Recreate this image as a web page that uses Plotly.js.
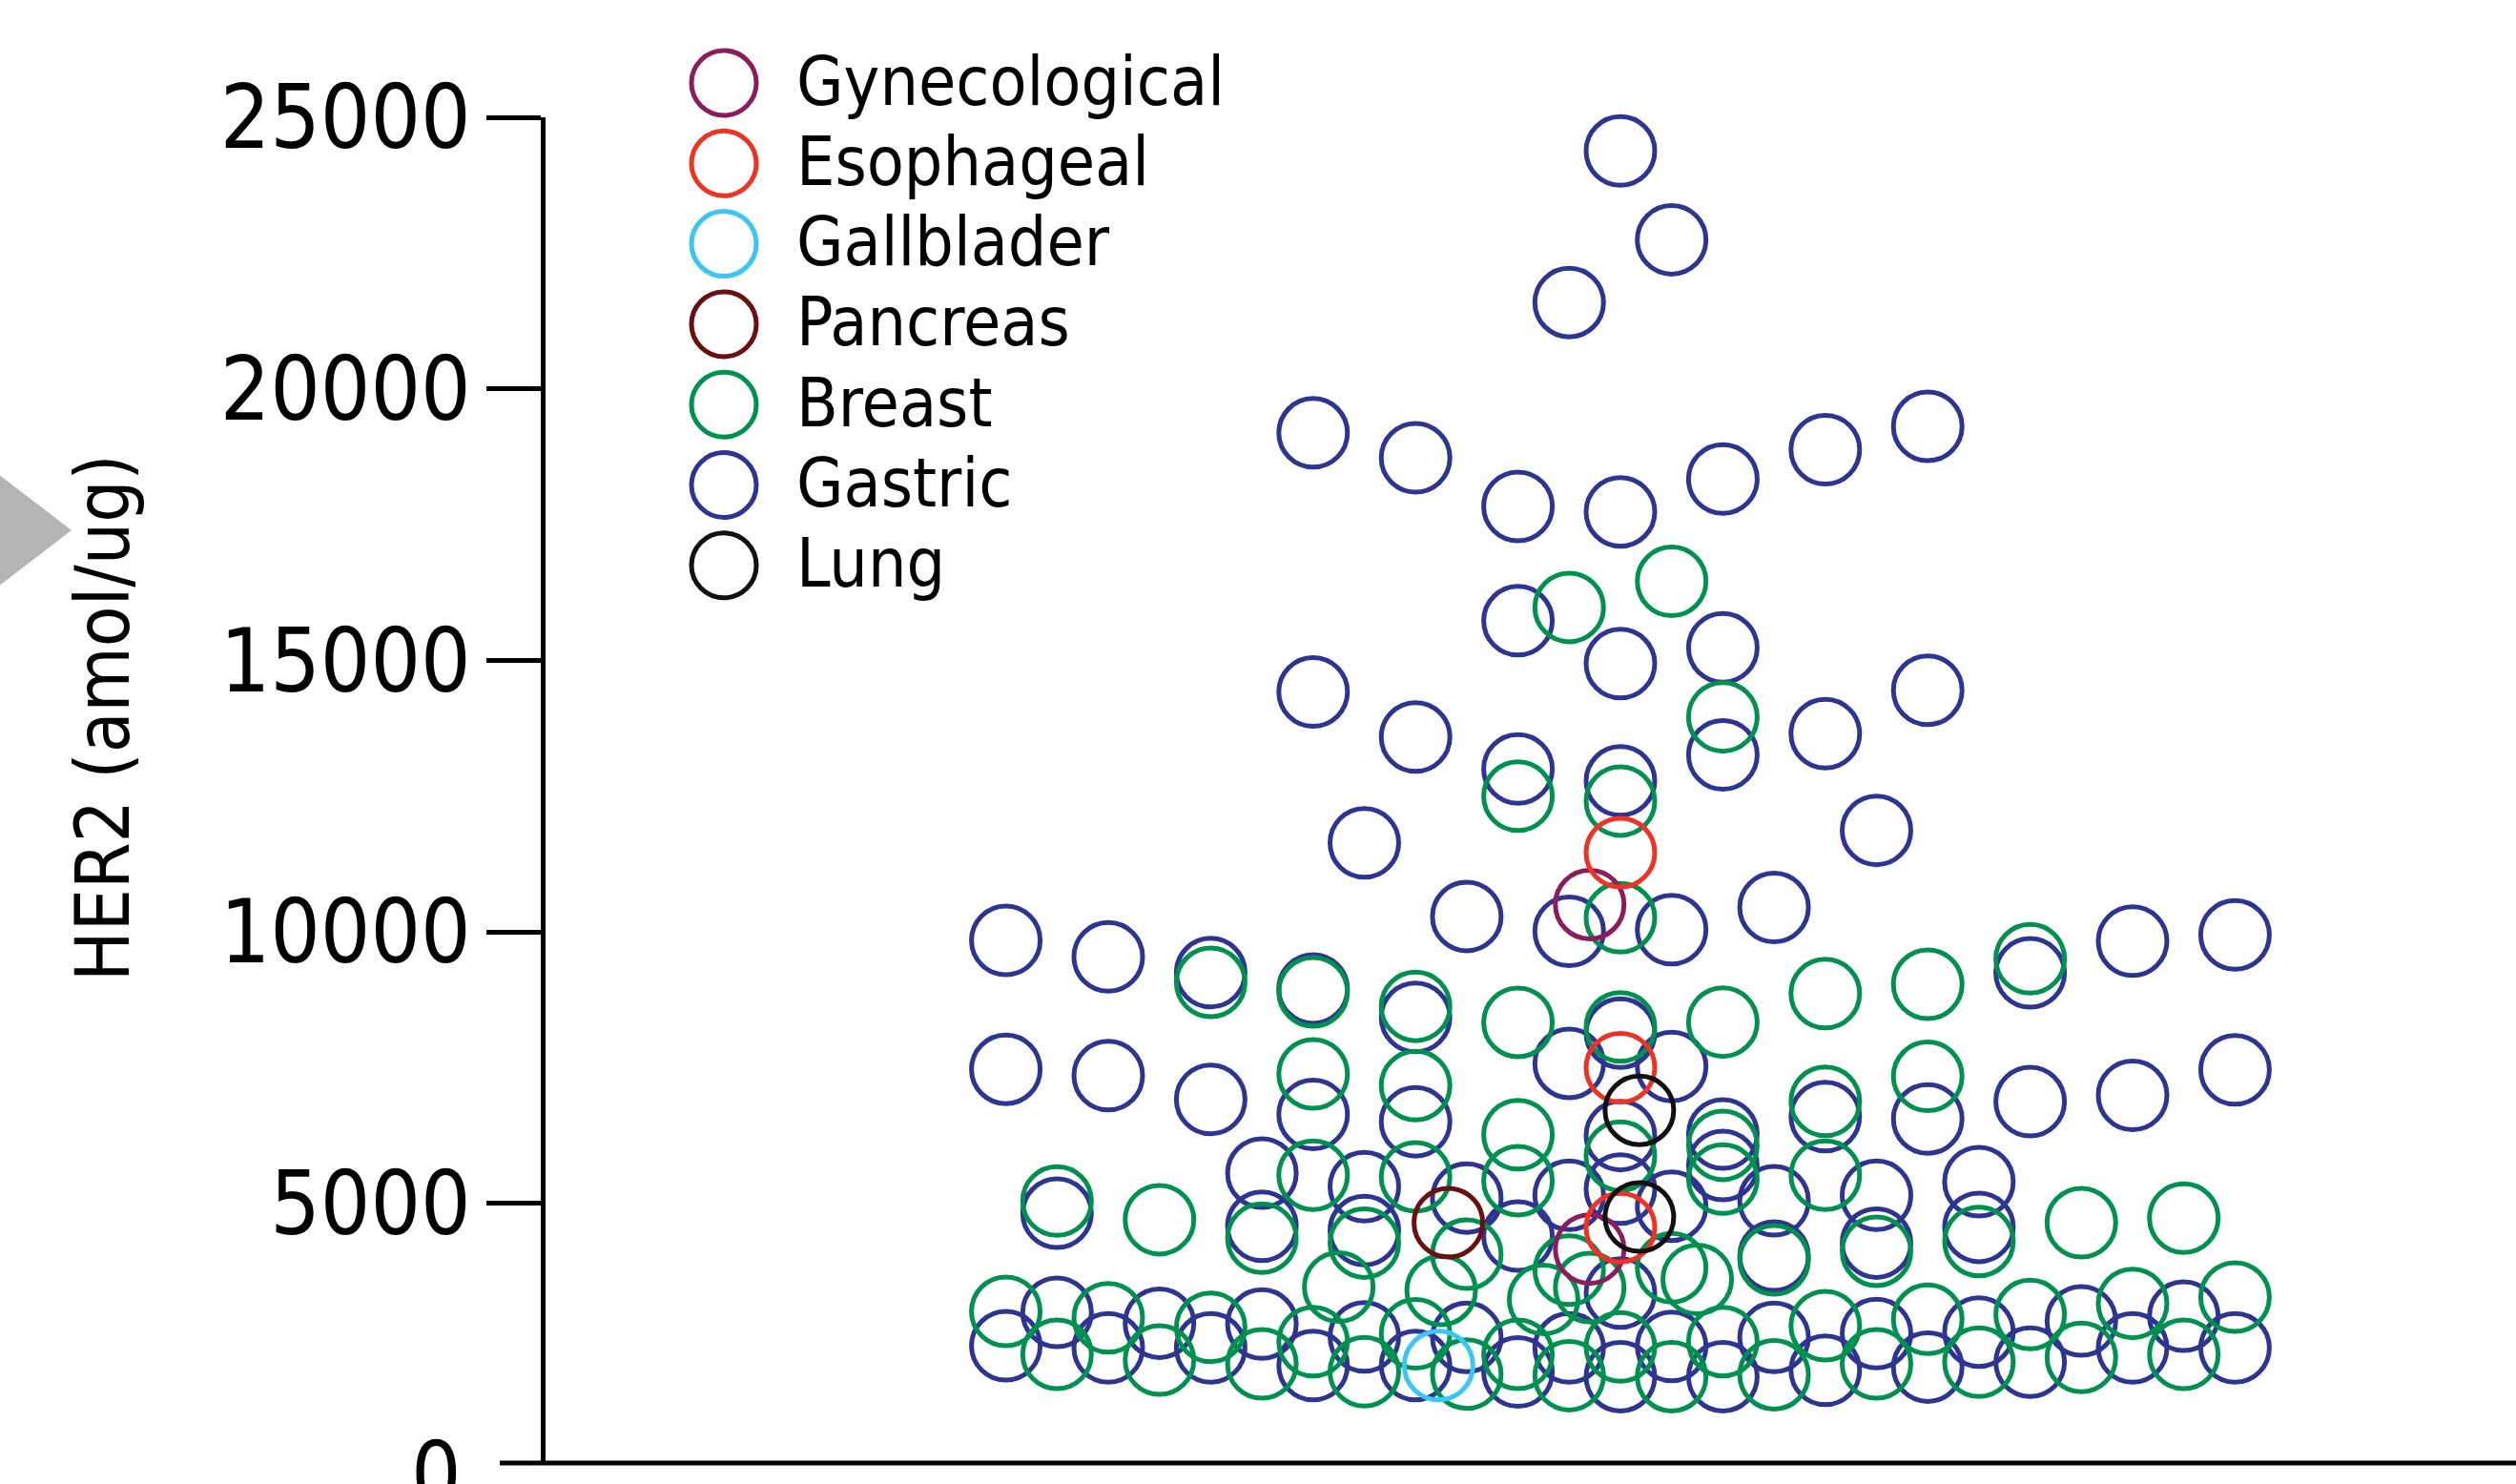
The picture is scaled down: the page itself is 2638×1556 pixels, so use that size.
<!DOCTYPE html>
<html>
<head>
<meta charset="utf-8">
<script src="https://cdn.plot.ly/plotly-3.0.1.min.js"></script>
<style>
  html, body { margin: 0; padding: 0; background: #ffffff; }
  #chart { width: 2638px; height: 1556px; }
</style>
</head>
<body>
<div id="chart"></div>
<script>
// ---------------- DATA ----------------
// x = horizontal swarm column position (0 = centre column), y = HER2 (amol/ug)
const categories = ["Gynecological", "Esophageal", "Gallblader", "Pancreas", "Breast", "Gastric", "Lung"];
const categoryColors = ["#8C1D5C", "#EE3224", "#3CC6F2", "#6A1010", "#009150", "#2D3590", "#111111"];

const gastricX = [0, 1, -1, -6, -4, -2, 0, 2, 4, 6, -2, 0, 2, -6, 6, -4, 4, 2, -2, 0, -5, 5,
  -3, -1, 1, 3, -12, -10, -8, -6, -4, 0, 8, 10, 12, -12, -10, -8, -6, -4, -1, 1, 6, 8, 10, 12, 0, 2, 4,
  -11, -7, -7, -5, -5, -3, -1, 0, 1, 2, 3, 3, 5, 5, 7, 7, -2, 0,
  -12, -11, -10, -9, -8, -7, -6, -5, -4, -3, -2, -1, 0, 1, 2, 3, 4, 5, 6, 7, 8, 9, 10, 11, 12];
const gastricY = [24380, 22745, 21590, 19190, 18730, 17835, 17735, 18340, 18880, 19310, 15730, 14940, 15230, 14420, 14450, 13590, 13650, 13260, 13000, 12780, 11640, 11870,
  10285, 10010, 10040, 10450, 9845, 9540, 9250, 8950, 8425, 8135, 9245, 9830, 9945, 7470, 7355, 6915, 6640, 6505, 7580, 7520, 6555, 6875, 6990, 7460, 6250, 6280, 6600,
  4820, 5560, 4580, 5310, 4500, 5100, 5150, 5265, 4950, 5700, 5050, 4030, 5150, 4270, 5400, 4560, 4400, 3350,
  2379, 2994, 2339, 2795, 2339, 2778, 2016, 2543, 2016, 2532, 1898, 2339, 1811, 2368, 1811, 2532, 1929, 2602, 1987, 2632, 2075, 2837, 2339, 2925, 2339];

const breastX = [-1, 1, 2, -2, 0, 0,
  -8, -6, -4, -2, 0, 2, 4, 6, 8, -6, -4, 6, 4, -2, 0, 2,
  -11, -9, -7, -6, -5, -4, -3, -2, -5.5, -3.5, -1.5, -1, -0.6, 1, 1.5, 2, 3, 4, 5, 7, 9, 11,
  -12, -11, -10, -9, -8, -7, -6, -5, -4, -3, -2, -1, 0, 1, 2, 3, 4, 5, 6, 7, 8, 9, 10, 11, 12];
const breastY = [15975, 16455, 13960, 12500, 12410, 10260,
  9070, 8895, 8630, 8335, 8250, 8340, 8865, 9035, 9505, 7385, 7170, 7340, 6880, 6265, 5870, 6070,
  5045, 4700, 4360, 5520, 4270, 5490, 4065, 5420, 3460, 3400, 3230, 3770, 3450, 3815, 3600, 5450, 3960, 5520, 4120, 4300, 4645, 4730,
  3012, 2221, 2894, 2116, 2718, 2046, 2455, 1900, 2600, 1858, 2221, 1829, 2356, 1811, 2456, 1846, 2750, 2046, 2866, 2075, 2954, 2163, 3159, 2221, 3276];

const gynecologicalX = [-0.6, -0.6];
const gynecologicalY = [10504, 4160];
const esophagealX = [0, 0, 0];
const esophagealY = [11460, 7500, 4555];
const gallbladerX = [-3.55];
const gallbladerY = [2016];
const pancreasX = [-3.36];
const pancreasY = [4645];
const lungX = [0.37, 0.37];
const lungY = [6715, 4750];

const yTickVals = [5000, 10000, 15000, 20000, 25000];
const yTickText = ["5000", "10000", "15000", "20000", "25000"];
const yZeroLabel = "0";
const yAxisTitle = "HER2 (amol/ug)";

// ---------------- FONT CHOICE (condensed face if installed, sizes fitted to the reference widths) ----------------
const ctx = document.createElement("canvas").getContext("2d");
function textWidth(family, text, size) { ctx.font = size + "px " + family; return ctx.measureText(text).width; }
function hasFont(name) {
  const s = "Gynecological 25000 HER2 (amol/ug)";
  return textWidth("monospace", s, 100) !== textWidth('"' + name + '", monospace', s, 100) ||
         textWidth("serif", s, 100) !== textWidth('"' + name + '", serif', s, 100);
}
const condensedCandidates = ["Liberation Sans Narrow", "Arial Narrow", "DejaVu Sans Condensed", "Roboto Condensed", "Noto Sans Condensed", "Open Sans Condensed"];
let baseFace = "Liberation Sans";
for (const f of condensedCandidates) { if (hasFont(f)) { baseFace = f; break; } }
const FONT = '"' + baseFace + '", "Liberation Sans", Arial, sans-serif';
function fitSize(text, targetW, maxSize) {
  const w = textWidth(FONT, text, 100);
  return Math.min(maxSize, 100 * targetW / w);
}
const tickSize = fitSize("25000", 263, 118);
const legendSize = fitSize("Gynecological", 449, 88);
const titleSize = fitSize(yAxisTitle, 553, 96);

// ---------------- LAYOUT HELPERS ----------------
const W = 2638, H = 1556;
const L = 572, R = 2638, T = 123, B = 1534;
const PW = R - L, PH = B - T;
const px2x = p => (p - L) / PW;
const py2y = p => (B - p) / PH;

function swarmTrace(name, xs, ys, color) {
  return {
    type: "scatter", mode: "markers", name: name,
    x: xs, y: ys, showlegend: false, hoverinfo: "skip",
    marker: { symbol: "circle-open", size: 72, color: color, line: { width: 5, color: color } },
    cliponaxis: false
  };
}
const seriesData = {
  "Gastric": [gastricX, gastricY],
  "Breast": [breastX, breastY],
  "Gynecological": [gynecologicalX, gynecologicalY],
  "Esophageal": [esophagealX, esophagealY],
  "Gallblader": [gallbladerX, gallbladerY],
  "Pancreas": [pancreasX, pancreasY],
  "Lung": [lungX, lungY]
};
const drawOrder = ["Gastric", "Breast", "Gallblader", "Pancreas", "Gynecological", "Esophageal", "Lung"];
const traces = drawOrder.map(n => {
  const c = categoryColors[categories.indexOf(n)];
  return swarmTrace(n, seriesData[n][0], seriesData[n][1], c);
});

// legend (custom, big symbols like the reference)
const legendShapes = [], legendAnn = [];
const legCx = 759, legY0 = 87, legDy = 84.3;
categories.forEach((n, i) => {
  const cy = legY0 + i * legDy;
  legendShapes.push({
    type: "circle", xref: "paper", yref: "paper", xsizemode: "pixel", ysizemode: "pixel",
    xanchor: px2x(legCx), yanchor: py2y(cy), x0: -34, x1: 34, y0: -34, y1: 34,
    line: { color: categoryColors[i], width: 5 }, fillcolor: "rgba(0,0,0,0)"
  });
  legendAnn.push({
    xref: "paper", yref: "paper", x: px2x(833), y: py2y(cy - 2), xanchor: "left", yanchor: "middle",
    text: n, showarrow: false, font: { family: FONT, size: legendSize, color: "#000" }
  });
});

const shapes = legendShapes.concat([
  // x-axis baseline (extends left of the y axis like in the reference)
  { type: "line", xref: "paper", yref: "paper", x0: px2x(524), x1: 1, y0: 0, y1: 0, line: { color: "#000", width: 5 } },
  // grey pointer triangle at the far left
  { type: "path", xref: "paper", yref: "paper",
    path: `M ${px2x(-2)},${py2y(497)} L ${px2x(75)},${py2y(556)} L ${px2x(-2)},${py2y(615)} Z`,
    fillcolor: "#B5B5B5", line: { width: 0 } }
]);

const annotations = legendAnn.concat([
  { xref: "paper", yref: "paper", x: px2x(486), y: py2y(1546.5), xanchor: "right", yanchor: "middle",
    text: yZeroLabel, showarrow: false, font: { family: FONT, size: tickSize, color: "#000" } },
  { xref: "paper", yref: "paper", x: px2x(108), y: py2y(753), xanchor: "center", yanchor: "middle",
    text: yAxisTitle, textangle: -90, showarrow: false, font: { family: FONT, size: titleSize, color: "#000" } }
]);

const layout = {
  width: W, height: H,
  margin: { l: L, r: W - R, t: T, b: H - B, pad: 0 },
  paper_bgcolor: "#ffffff", plot_bgcolor: "#ffffff",
  showlegend: false,
  xaxis: { range: [(L - 1699) / 53.7, (R - 1699) / 53.7], showgrid: false, zeroline: false,
           showticklabels: false, ticks: "", showline: false, fixedrange: true },
  yaxis: { range: [220, 25000], tickvals: yTickVals, ticktext: yTickText,
           ticks: "outside", ticklen: 57, tickwidth: 5, tickcolor: "#000",
           showline: true, linewidth: 5, linecolor: "#000",
           showgrid: false, zeroline: false, ticklabelstandoff: -2,
           tickfont: { family: FONT, size: tickSize, color: "#000" }, fixedrange: true },
  shapes: shapes,
  annotations: annotations
};

Plotly.newPlot("chart", traces, layout, { displayModeBar: false, staticPlot: true });
</script>
</body>
</html>
